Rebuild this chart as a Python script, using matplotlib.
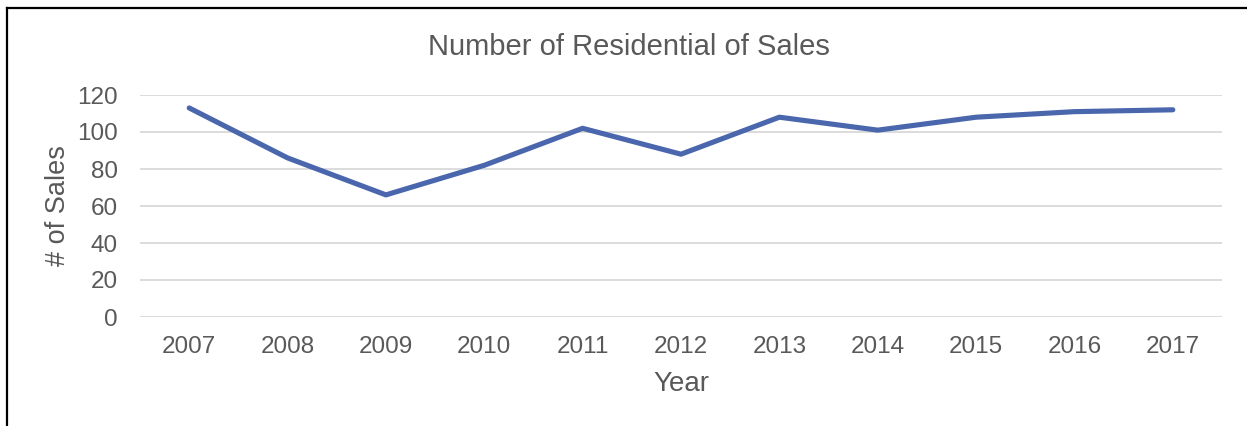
import matplotlib
matplotlib.use("Agg")
import matplotlib.pyplot as plt
from matplotlib.lines import Line2D

years = ["2007", "2008", "2009", "2010", "2011", "2012",
         "2013", "2014", "2015", "2016", "2017"]
sales = [113, 86, 66, 82, 102, 88, 108, 101, 108, 111, 112]
y_ticks = [0, 20, 40, 60, 80, 100, 120]

plt.rcParams["font.family"] = ["Liberation Sans", "DejaVu Sans"]
text_color = "#595959"

fig = plt.figure(figsize=(12.47, 4.26), dpi=100)
ax = fig.add_axes([140 / 1247, 109 / 426, 1082 / 1247, 222 / 426])

x = list(range(len(years)))
ax.plot(x, sales, color="#4A66AC", linewidth=3.7,
        solid_capstyle="round", solid_joinstyle="round", zorder=3)

ax.set_xlim(-0.5, len(years) - 0.5)
ax.set_ylim(0, 120)
ax.set_xticks(x)
ax.set_xticklabels(years)
ax.set_yticks(y_ticks)
ax.yaxis.grid(True, color="#D9D9D9", linewidth=1.3)
ax.set_axisbelow(True)
for s in ax.spines.values():
    s.set_visible(False)
ax.tick_params(axis="both", length=0, labelsize=17.5, labelcolor=text_color)
ax.tick_params(axis="y", pad=16)
ax.tick_params(axis="x", pad=13.5)

ax.set_xlabel("Year", fontsize=20, color=text_color, labelpad=9.5)
ax.set_ylabel("# of Sales", fontsize=19.5, color=text_color, labelpad=4)
fig.text(629 / 1247, 1 - 47 / 426, "Number of Residential of Sales",
         ha="center", va="center", fontsize=21, color=text_color)

# frame around the chart area
fig.add_artist(Line2D([6.5 / 1247, 6.5 / 1247], [0, 1 - 8 / 426],
                      transform=fig.transFigure, color="black", linewidth=1.6))
fig.add_artist(Line2D([6.5 / 1247, 1], [1 - 8 / 426, 1 - 8 / 426],
                      transform=fig.transFigure, color="black", linewidth=1.6))

fig.savefig("out.png", dpi=100)
